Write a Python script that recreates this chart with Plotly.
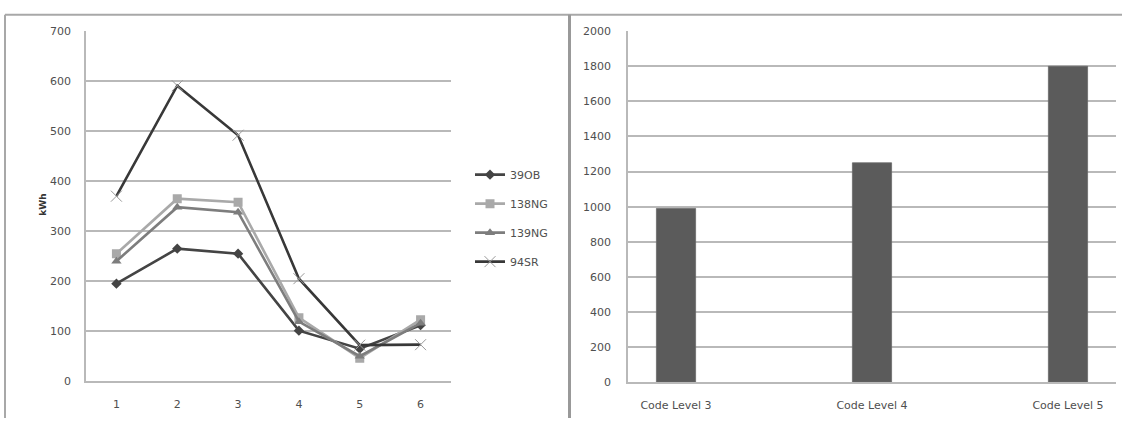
import plotly.graph_objects as go

W, H = 1122, 425

# Monthly energy use per house (kWh)
periods = ["1", "2", "3", "4", "5", "6"]
s_39ob = [195, 265, 255, 101, 65, 112]
s_138ng = [255, 365, 358, 127, 46, 123]
s_139ng = [240, 348, 338, 119, 50, 116]
s_94sr = [370, 591, 492, 205, 72, 73]

# Totals per code level
levels = ["Code Level 3", "Code Level 4", "Code Level 5"]
level_totals = [990, 1250, 1800]

left_ticks = [0, 100, 200, 300, 400, 500, 600, 700]
right_ticks = [0, 200, 400, 600, 800, 1000, 1200, 1400, 1600, 1800, 2000]


def px_x(p):
    return p / W


def px_y(p):
    return 1 - p / H


FONT = "DejaVu Sans"
TICK_COLOR = "#4f4f4f"
GRID = "#b9b9b9"

fig = go.Figure()

series = [
    ("39OB", s_39ob, "#444444", "diamond", 8, dict(color="#444444", width=0)),
    ("138NG", s_138ng, "#a9a9a9", "square", 9, dict(color="#a9a9a9", width=0)),
    ("139NG", s_139ng, "#7d7d7d", "triangle-up", 9, dict(color="#7d7d7d", width=0)),
    ("94SR", s_94sr, "#383838", "x-thin-open", 11, dict(color="#9a9a9a", width=1)),
]
for name, vals, col, sym, size, mline in series:
    fig.add_trace(go.Scatter(
        x=periods, y=vals, name=name, mode="lines+markers",
        line=dict(color=col, width=2.6),
        marker=dict(symbol=sym, size=size, color=mline["color"] if sym.startswith("x") else col,
                    line=mline),
        xaxis="x", yaxis="y", legendgroup=name,
    ))

fig.add_trace(go.Bar(
    x=levels, y=level_totals, width=0.2, showlegend=False,
    marker=dict(color="#5b5b5b", line=dict(color="#6a6a6a", width=0.8)),
    xaxis="x2", yaxis="y2",
))

axis_font = dict(family=FONT, size=11, color=TICK_COLOR)

fig.update_layout(
    width=W, height=H,
    margin=dict(l=0, r=0, t=0, b=0),
    paper_bgcolor="white", plot_bgcolor="white",
    font=dict(family=FONT, size=11, color=TICK_COLOR),
    showlegend=True,
    legend=dict(
        x=px_x(470), y=px_y(159), xanchor="left", yanchor="top",
        font=dict(family=FONT, size=11, color="#4f4f4f"),
        tracegroupgap=10, bgcolor="rgba(0,0,0,0)",
    ),
    xaxis=dict(
        domain=[px_x(86), px_x(451)], anchor="y",
        type="category", range=[-0.5, 5.5],
        showgrid=False, showline=True, linecolor=GRID, linewidth=1.5,
        ticks="", tickfont=axis_font, ticklabelstandoff=12,
        fixedrange=True,
    ),
    yaxis=dict(
        domain=[px_y(387), px_y(26)], anchor="x",
        range=[0, 700], tickvals=left_ticks,
        showgrid=True, gridcolor=GRID, gridwidth=1.5,
        showline=True, linecolor=GRID, linewidth=1.5,
        zeroline=False, ticks="", tickfont=axis_font, ticklabelstandoff=11,
        fixedrange=True,
    ),
    xaxis2=dict(
        domain=[px_x(628), px_x(1116)], anchor="y2",
        type="category", range=[-0.245, 2.245],
        showgrid=False, showline=True, linecolor=GRID, linewidth=1.5,
        ticks="", tickfont=axis_font, ticklabelstandoff=12,
        fixedrange=True,
    ),
    yaxis2=dict(
        domain=[px_y(388), px_y(26)], anchor="x2",
        range=[0, 2000], tickvals=right_ticks,
        showgrid=True, gridcolor=GRID, gridwidth=1.5,
        showline=True, linecolor=GRID, linewidth=1.5,
        zeroline=False, ticks="", tickfont=axis_font, ticklabelstandoff=13,
        fixedrange=True,
    ),
    annotations=[
        dict(text="<b>kWh</b>", x=px_x(36), y=px_y(205), xref="paper", yref="paper",
             textangle=-90, showarrow=False,
             font=dict(family=FONT, size=9, color="#333333")),
    ],
    shapes=[
        # outer frame of both panels
        dict(type="line", xref="paper", yref="paper",
             x0=px_x(5), x1=1, y0=px_y(9), y1=px_y(9),
             line=dict(color="#a8a8a8", width=2)),
        dict(type="line", xref="paper", yref="paper",
             x0=px_x(5), x1=px_x(5), y0=px_y(9), y1=0,
             line=dict(color="#a8a8a8", width=2)),
        dict(type="line", xref="paper", yref="paper",
             x0=px_x(569.5), x1=px_x(569.5), y0=px_y(9), y1=0,
             line=dict(color="#999999", width=3)),
    ],
)

fig.write_html("out.html")
